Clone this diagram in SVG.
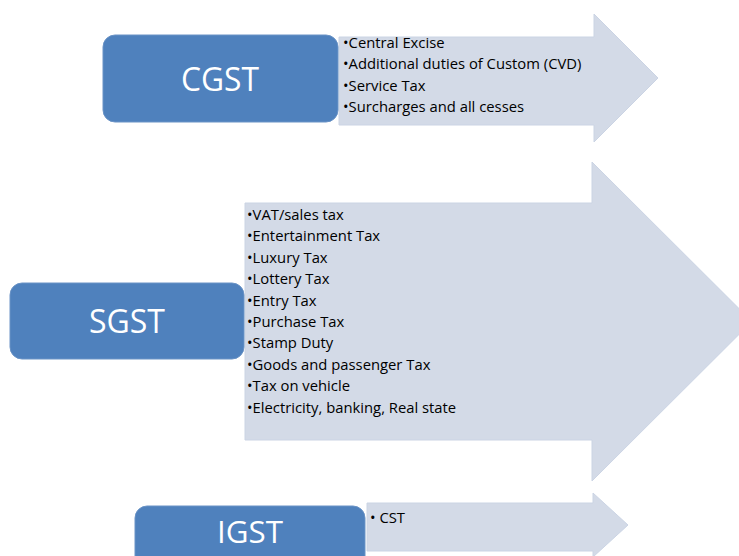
<svg xmlns="http://www.w3.org/2000/svg" width="739" height="556" viewBox="0 0 739 556">
<style>
.box{fill:#4F81BD;stroke:#6A93C6;stroke-width:1}
.arrow{fill:#D3DAE7;stroke:#CBD4E4;stroke-width:1}
.title{font-family:"Open Sans","Liberation Sans",Arial,sans-serif;fill:#FFFFFF;text-anchor:middle}
.item{font-family:"Open Sans","Liberation Sans",Arial,sans-serif;font-size:14.8px;fill:#000000}
</style>
<rect width="739" height="556" fill="#FFFFFF"/>
<g id="connectors">
<polygon id="arrow-cgst" class="arrow" points="339,37 594,37 594,14 658,78 594,142 594,125 339,125"/>
<polygon id="arrow-sgst" class="arrow" points="245,203 592,203 592,162 752,321.5 592,481 592,440 245,440"/>
<polygon id="arrow-igst" class="arrow" points="367,503 593,503 593,493 628,525 593,557 593,551 367,551"/>
</g>
<g id="cgst">
<rect class="box" x="103" y="35" width="235" height="87" rx="12"/>
<text class="title" x="220" y="91" font-size="32" textLength="78" lengthAdjust="spacingAndGlyphs">CGST</text>
</g>
<g id="cgst-items">
<text class="item" x="343" y="48">•Central Excise</text>
<text class="item" x="343" y="69.3">•Additional duties of Custom (CVD)</text>
<text class="item" x="343" y="90.6">•Service Tax</text>
<text class="item" x="343" y="112">•Surcharges and all cesses</text>
</g>
<g id="sgst">
<rect class="box" x="10" y="283" width="234" height="76" rx="12"/>
<text class="title" x="127" y="333" font-size="32" textLength="76" lengthAdjust="spacingAndGlyphs">SGST</text>
</g>
<g id="sgst-items">
<text class="item" x="247" y="220">•VAT/sales tax</text>
<text class="item" x="247" y="241.4">•Entertainment Tax</text>
<text class="item" x="247" y="262.8">•Luxury Tax</text>
<text class="item" x="247" y="284.2">•Lottery Tax</text>
<text class="item" x="247" y="305.6">•Entry Tax</text>
<text class="item" x="247" y="327">•Purchase Tax</text>
<text class="item" x="247" y="348.4">•Stamp Duty</text>
<text class="item" x="247" y="369.8">•Goods and passenger Tax</text>
<text class="item" x="247" y="391.2">•Tax on vehicle</text>
<text class="item" x="247" y="412.6">•Electricity, banking, Real state</text>
</g>
<g id="igst">
<rect class="box" x="135" y="506" width="230" height="80" rx="12"/>
<text class="title" x="250" y="543" font-size="31" textLength="66" lengthAdjust="spacingAndGlyphs">IGST</text>
</g>
<g id="igst-items">
<text class="item" x="370" y="523" font-size="16px">• CST</text>
</g>
</svg>
